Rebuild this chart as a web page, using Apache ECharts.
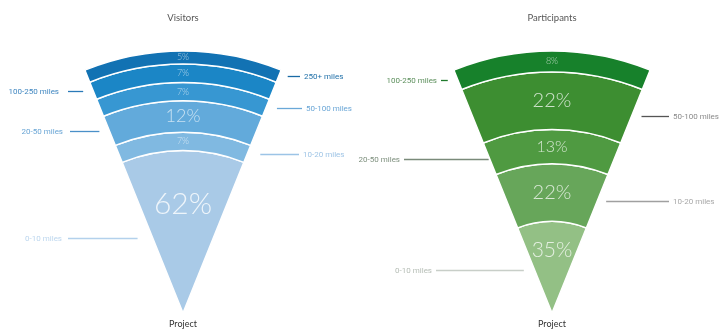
<!DOCTYPE html>
<html>
<head>
<meta charset="utf-8">
<script src="https://cdn.jsdelivr.net/npm/echarts@6/dist/echarts.min.js"></script>
<style>
html,body{margin:0;padding:0;background:#fff;}
#main{width:722px;height:330px;}
</style>
</head>
<body>
<div id="main"></div>
<script>
// ---- data ----
const titles = ['Visitors', 'Participants'];
const visitorBands = ['0-10 miles', '10-20 miles', '20-50 miles', '50-100 miles', '100-250 miles', '250+ miles'];
const visitorPct = [62, 7, 12, 7, 7, 5];
const participantBands = ['0-10 miles', '10-20 miles', '20-50 miles', '50-100 miles', '100-250 miles'];
const participantPct = [35, 22, 13, 22, 8];
const apexLabel = 'Project';

// ---- styles / layout ----
const HALF_ANGLE = 22; // degrees
const polarLayout = [
  { center: [183, 313], radius: 262 },
  { center: [552, 313], radius: 262 }
];
const styles = [
  {
    colors: ['#a9cae7', '#80b9e1', '#62aadb', '#3797d2', '#1b86c6', '#1272b3'],
    pctColors: ['rgba(255,255,255,0.8)', 'rgba(255,255,255,0.6)', 'rgba(255,255,255,0.65)', 'rgba(255,255,255,0.6)', 'rgba(255,255,255,0.6)', 'rgba(255,255,255,0.6)'],
    pctSizes: [30, 9, 18, 9, 9, 9],
    pctOffsets: [-27, 0, 0, 0, 0, 0],
    textColors: ['#bcd6ee', '#9fc5e6', '#69a5d5', '#6aa6d6', '#3f86c0', '#1f6fa8'],
    lineColors: ['#b3d1ec', '#9cc4e6', '#4a90c8', '#6aa8d8', '#2a7ab8', '#1a6aa5'],
    sides: ['left', 'right', 'left', 'right', 'left', 'right'],
    outerX: [68, 299, 70, 302, 68, 300],
    gaps: [15, 13, 10, 11, 10, 9],
    textGap: [6, 4, 7, 4, 9, 4]
  },
  {
    colors: ['#93c085', '#67a65a', '#4f9a41', '#3d8e31', '#17812b'],
    pctColors: ['rgba(255,255,255,0.75)', 'rgba(255,255,255,0.75)', 'rgba(255,255,255,0.75)', 'rgba(255,255,255,0.75)', 'rgba(255,255,255,0.6)'],
    pctSizes: [21, 20, 16, 20, 9],
    pctOffsets: [-17, 0, 0, 0, 0],
    textColors: ['#b5bdb5', '#a8a8a8', '#7d8f7d', '#8a8a8a', '#5c8f5c'],
    lineColors: ['#c8cec8', '#a0a0a0', '#7a8a7a', '#555555', '#1f7a2c'],
    sides: ['left', 'right', 'left', 'right', 'left'],
    outerX: [436, 669, 404, 669, 441],
    gaps: [11, 9, 1, 10, 10],
    textGap: [4, 4, 4, 4, 4]
  }
];
const datasets = [
  { bands: visitorBands, values: visitorPct },
  { bands: participantBands, values: participantPct }
];

const chart = echarts.init(document.getElementById('main'));
const barWidth = (HALF_ANGLE * 2 / 360 * 100).toFixed(3) + '%';

const series = [];
datasets.forEach((ds, i) => {
  const st = styles[i];
  ds.values.forEach((v, j) => {
    series.push({
      type: 'bar',
      name: ds.bands[j],
      coordinateSystem: 'polar',
      polarIndex: i,
      stack: 'fan' + i,
      barWidth: barWidth,
      data: [v],
      silent: true,
      itemStyle: { color: st.colors[j], borderColor: '#ffffff', borderWidth: 1.5 },
      label: {
        show: true,
        position: 'middle',
        formatter: '{c}%',
        fontFamily: 'Lato',
        fontWeight: 300,
        fontSize: st.pctSizes[j],
        color: st.pctColors[j],
        offset: [0, st.pctOffsets[j]]
      }
    });
  });
});

chart.setOption({
  animation: false,
  backgroundColor: '#ffffff',
  polar: polarLayout.map(p => ({ center: p.center, radius: p.radius })),
  angleAxis: polarLayout.map((p, i) => ({
    polarIndex: i, type: 'category', data: ['fan'], startAngle: 270, show: false
  })),
  radiusAxis: polarLayout.map((p, i) => ({
    polarIndex: i, type: 'value', min: 0, max: 100, show: false
  })),
  series: series
});

// ---- annotations computed from the polar scales ----
const graphics = [];
const rad = HALF_ANGLE * Math.PI / 180;
datasets.forEach((ds, i) => {
  const st = styles[i];
  const c = chart.convertToPixel({ polarIndex: i }, [0, 'fan']);
  // title
  graphics.push({
    type: 'text', x: c[0], y: 18,
    style: { text: titles[i], fill: '#555', font: '9.5px Lato', align: 'center', verticalAlign: 'middle' }
  });
  // apex label
  graphics.push({
    type: 'text', x: c[0], y: 324,
    style: { text: apexLabel, fill: '#333', font: '9px Lato', align: 'center', verticalAlign: 'middle' }
  });
  let cum = 0;
  ds.values.forEach((v, j) => {
    const mid = cum + v / 2;
    cum += v;
    const p = chart.convertToPixel({ polarIndex: i }, [mid, 'fan']);
    const rPx = c[1] - p[1];
    const y = Math.round(c[1] - rPx * Math.cos(rad)) + 0.5;
    const left = st.sides[j] === 'left';
    const edgeX = c[0] + (left ? -1 : 1) * rPx * Math.sin(rad);
    const innerX = edgeX + (left ? -st.gaps[j] : st.gaps[j]);
    graphics.push({
      type: 'line',
      shape: { x1: st.outerX[j], y1: y, x2: innerX, y2: y },
      style: { stroke: st.lineColors[j], lineWidth: 1.3 }
    });
    graphics.push({
      type: 'text',
      x: st.outerX[j] + (left ? -st.textGap[j] : st.textGap[j]), y: y,
      style: {
        text: ds.bands[j], fill: st.textColors[j], font: '8px Roboto',
        align: left ? 'right' : 'left', verticalAlign: 'middle'
      }
    });
  });
});
chart.setOption({ graphic: { elements: graphics } });
</script>
</body>
</html>
